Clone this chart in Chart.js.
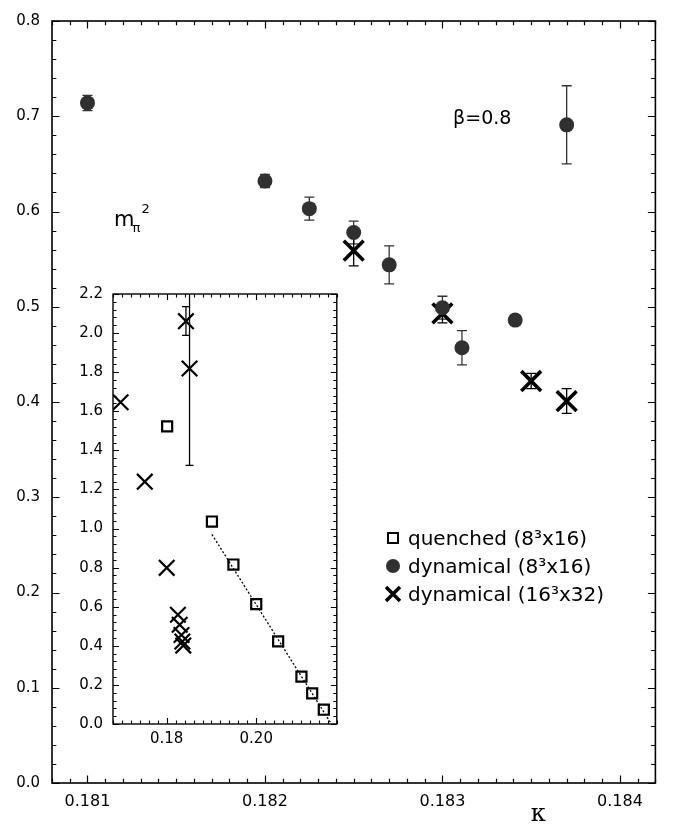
<!DOCTYPE html>
<html><head><meta charset="utf-8">
<script src="https://cdn.jsdelivr.net/npm/chart.js@4.4.1/dist/chart.umd.min.js"></script>
<style>
html,body{margin:0;padding:0;background:#fff;}
#wrap{position:relative;width:673px;height:825px;overflow:hidden;}
#main{position:absolute;left:0;top:0;}
#inset{position:absolute;left:60px;top:275px;}
</style></head><body>
<div id="wrap"><canvas id="main" width="673" height="825"></canvas><canvas id="inset" width="290" height="480"></canvas></div>
<script>
// ---------- data ----------
const mainKappaTicks = [0.181, 0.182, 0.183, 0.184];
const mainM2Ticks = [0.0, 0.1, 0.2, 0.3, 0.4, 0.5, 0.6, 0.7, 0.8];
const insetKappaTicks = [0.18, 0.20];
const insetM2Ticks = [0.0, 0.2, 0.4, 0.6, 0.8, 1.0, 1.2, 1.4, 1.6, 1.8, 2.0, 2.2];

// dynamical (8^3x16), main panel
const dyn8Kappa = [0.1810, 0.1820, 0.18225, 0.1825, 0.1827, 0.1830, 0.18311, 0.18341, 0.1837];
const dyn8M2    = [0.714, 0.632, 0.603, 0.578, 0.544, 0.499, 0.457, 0.486, 0.691];
const dyn8Err   = [0.008, 0.007, 0.012, 0.012, 0.020, 0.012, 0.018, 0.005, 0.041];

// dynamical (16^3x32), main panel
const dyn16Kappa = [0.1825, 0.1830, 0.1835, 0.1837];
const dyn16M2    = [0.559, 0.493, 0.422, 0.401];
const dyn16Err   = [0.016, 0.010, 0.008, 0.013];

// inset: crosses
const insetXKappa = [0.1697, 0.1751, 0.1800, 0.1825, 0.1829, 0.1833, 0.1835, 0.1837, 0.1843, 0.1851];
const insetXM2    = [1.646, 1.240, 0.799, 0.559, 0.508, 0.455, 0.422, 0.401, 2.061, 1.819];
const insetXLow   = [null, null, null, null, null, null, null, null, 1.988, 1.323];
const insetXHigh  = [null, null, null, null, null, null, null, null, 2.135, 2.320];

// inset: quenched squares
const quenchedKappa = [0.1801, 0.1901, 0.1949, 0.2000, 0.2049, 0.2101, 0.2125, 0.2151];
const quenchedM2    = [1.523, 1.036, 0.816, 0.613, 0.423, 0.242, 0.157, 0.073];

// inset: dotted fit line
const fitKappa = [0.1901, 0.2168];
const fitM2    = [0.970, 0.000];

const legendLabels = ['quenched (8\u00B3x16)', 'dynamical (8\u00B3x16)', 'dynamical (16\u00B3x32)'];

// ---------- helpers ----------
const FONT = '"DejaVu Sans", sans-serif';
const pts = (xs, ys) => xs.map((x, i) => ({x, y: ys[i]}));

const errorBars = {
  id: 'errorBars',
  beforeDatasetsDraw(chart) {
    const {ctx, chartArea: a, scales: {x: xs, y: ys}} = chart;
    ctx.save();
    ctx.beginPath(); ctx.rect(a.left, a.top, a.right - a.left, a.bottom - a.top); ctx.clip();
    chart.data.datasets.forEach(ds => {
      if (!ds.errLow) return;
      ctx.strokeStyle = ds.errColor || '#000';
      ctx.lineWidth = ds.errWidth || 1.2;
      ds.data.forEach((p, j) => {
        const lo = ds.errLow[j], hi = ds.errHigh[j];
        if (lo == null) return;
        const px = xs.getPixelForValue(p.x);
        const pl = ys.getPixelForValue(lo), ph = ys.getPixelForValue(hi);
        const c = ds.capHalf || 5;
        ctx.beginPath();
        ctx.moveTo(px, pl); ctx.lineTo(px, ph);
        ctx.moveTo(px - c, pl); ctx.lineTo(px + c, pl);
        ctx.moveTo(px - c, ph); ctx.lineTo(px + c, ph);
        ctx.stroke();
      });
    });
    ctx.restore();
  }
};

const frameTicks = {
  id: 'frameTicks',
  afterDraw(chart, args, o) {
    const {ctx, chartArea: a, scales: {x: xs, y: ys}} = chart;
    ctx.save();
    ctx.strokeStyle = '#000';
    ctx.lineWidth = o.lw;
    ctx.beginPath();
    const minorVals = (min, max, step) => {
      const out = [];
      for (let i = Math.ceil(min / step - 1e-6); i <= Math.floor(max / step + 1e-6); i++) out.push(i * step);
      return out;
    };
    minorVals(xs.min, xs.max, o.xMinor).forEach(v => {
      const p = Math.round(xs.getPixelForValue(v)) + 0.5;
      ctx.moveTo(p, a.bottom); ctx.lineTo(p, a.bottom - o.minorLen);
      ctx.moveTo(p, a.top); ctx.lineTo(p, a.top + o.minorLen);
    });
    o.xMajor.forEach(v => {
      const p = Math.round(xs.getPixelForValue(v)) + 0.5;
      ctx.moveTo(p, a.bottom); ctx.lineTo(p, a.bottom - o.majorLen);
      ctx.moveTo(p, a.top); ctx.lineTo(p, a.top + o.majorLen);
    });
    minorVals(ys.min, ys.max, o.yMinor).forEach(v => {
      const p = Math.round(ys.getPixelForValue(v)) + 0.5;
      ctx.moveTo(a.left, p); ctx.lineTo(a.left + o.minorLen, p);
      ctx.moveTo(a.right, p); ctx.lineTo(a.right - o.minorLen, p);
    });
    o.yMajor.forEach(v => {
      const p = Math.round(ys.getPixelForValue(v)) + 0.5;
      ctx.moveTo(a.left, p); ctx.lineTo(a.left + o.majorLen, p);
      ctx.moveTo(a.right, p); ctx.lineTo(a.right - o.majorLen, p);
    });
    ctx.stroke();
    ctx.lineWidth = o.frameLw;
    ctx.strokeRect(a.left, a.top, a.right - a.left, a.bottom - a.top);
    ctx.restore();
  }
};

const mainText = {
  id: 'mainText',
  afterDraw(chart) {
    const {ctx, scales: {x: xs, y: ys}} = chart;
    ctx.save();
    ctx.fillStyle = '#000';
    ctx.textBaseline = 'alphabetic';
    // beta label
    ctx.font = '19px ' + FONT;
    ctx.textAlign = 'left';
    ctx.fillText('\u03B2=0.8', xs.getPixelForValue(0.18306), ys.getPixelForValue(0.692));
    // m_pi^2 label
    const mx = xs.getPixelForValue(0.18115), my = ys.getPixelForValue(0.585);
    ctx.font = '21px ' + FONT;
    ctx.fillText('m', mx, my);
    const mw = ctx.measureText('m').width;
    ctx.font = '13px ' + FONT;
    ctx.fillText('\u03C0', mx + mw - 2, my + 6);
    ctx.fillText('2', mx + mw + 7, my - 13);
    // kappa label
    ctx.font = '24px "DejaVu Serif", serif';
    ctx.textAlign = 'center';
    ctx.fillText('\u03BA', xs.getPixelForValue(0.18354), 821);
    // legend
    const lx = 393, ly = [538, 566, 594];
    ctx.font = '20px ' + FONT;
    ctx.textAlign = 'left';
    legendLabels.forEach((t, i) => ctx.fillText(t, lx + 15, ly[i] + 7));
    ctx.strokeStyle = '#000';
    ctx.lineWidth = 2;
    ctx.strokeRect(lx - 5, ly[0] - 5, 10, 10);
    ctx.fillStyle = '#303030';
    ctx.beginPath(); ctx.arc(lx, ly[1], 7, 0, Math.PI * 2); ctx.fill();
    ctx.lineWidth = 3.5;
    ctx.beginPath();
    ctx.moveTo(lx - 7, ly[2] - 7); ctx.lineTo(lx + 7, ly[2] + 7);
    ctx.moveTo(lx + 7, ly[2] - 7); ctx.lineTo(lx - 7, ly[2] + 7);
    ctx.stroke();
    ctx.restore();
  }
};

function axis(min, max, ticks, fmt, fitProp, fitVal, pad, size) {
  return {
    type: 'linear', min, max,
    afterBuildTicks: s => { s.ticks = ticks.map(v => ({value: v})); },
    afterFit: s => { s[fitProp] = fitVal; },
    grid: {display: false, drawTicks: false},
    border: {display: false},
    ticks: {padding: pad, color: '#000', font: {family: FONT, size}, autoSkip: false, maxRotation: 0,
            callback: v => v.toFixed(fmt)}
  };
}

// ---------- main chart ----------
new Chart(document.getElementById('main'), {
  type: 'scatter',
  data: {
    datasets: [
      {
        label: legendLabels[1], data: pts(dyn8Kappa, dyn8M2),
        pointStyle: 'circle', pointRadius: 7.5, backgroundColor: '#303030', borderColor: '#303030', borderWidth: 0,
        errLow: dyn8M2.map((v, i) => v - dyn8Err[i]), errHigh: dyn8M2.map((v, i) => v + dyn8Err[i]),
        errColor: '#333', errWidth: 1.3, capHalf: 5
      },
      {
        label: legendLabels[2], data: pts(dyn16Kappa, dyn16M2),
        pointStyle: 'crossRot', pointRadius: 14, borderColor: '#000', backgroundColor: '#000', borderWidth: 3.6,
        errLow: dyn16M2.map((v, i) => v - dyn16Err[i]), errHigh: dyn16M2.map((v, i) => v + dyn16Err[i]),
        errColor: '#000', errWidth: 1.3, capHalf: 5
      }
    ]
  },
  options: {
    responsive: false, animation: false, devicePixelRatio: 1,
    layout: {padding: {top: 13, right: 17, left: 0, bottom: 0}},
    plugins: {legend: {display: false}, tooltip: {enabled: false},
      frameTicks: {lw: 1.2, frameLw: 1.6, majorLen: 7.5, minorLen: 4.3, xMinor: 0.0001, yMinor: 0.02,
                   xMajor: mainKappaTicks, yMajor: mainM2Ticks}},
    scales: {
      x: axis(0.1808, 0.1842, mainKappaTicks, 3, 'height', 42, 9, 16),
      y: axis(0.0, 0.8, mainM2Ticks, 1, 'width', 52, 12, 15)
    }
  },
  plugins: [errorBars, frameTicks, mainText]
});

// ---------- inset chart ----------
new Chart(document.getElementById('inset'), {
  type: 'scatter',
  data: {
    datasets: [
      {
        type: 'line', label: 'fit', data: pts(fitKappa, fitM2),
        borderColor: '#000', borderWidth: 1.3, borderDash: [2, 2], pointRadius: 0, fill: false
      },
      {
        label: legendLabels[0], data: pts(quenchedKappa, quenchedM2),
        pointStyle: 'rect', pointRadius: 7.1, borderColor: '#000', backgroundColor: '#fff', borderWidth: 2.2
      },
      {
        label: legendLabels[2], data: pts(insetXKappa, insetXM2),
        pointStyle: 'crossRot', pointRadius: 11, borderColor: '#000', borderWidth: 2.2,
        errLow: insetXLow, errHigh: insetXHigh, errColor: '#000', errWidth: 1.3, capHalf: 4
      }
    ]
  },
  options: {
    responsive: false, animation: false, devicePixelRatio: 1,
    layout: {padding: {top: 16, right: 12, left: 0, bottom: 0}},
    plugins: {legend: {display: false}, tooltip: {enabled: false},
      frameTicks: {lw: 1.1, frameLw: 1.4, majorLen: 6, minorLen: 3.5, xMinor: 0.002, yMinor: 0.04,
                   xMajor: insetKappaTicks, yMajor: insetM2Ticks}},
    scales: {
      x: axis(0.168, 0.218, insetKappaTicks, 2, 'height', 31, 6, 15),
      y: axis(0.0, 2.2, insetM2Ticks, 1, 'width', 53, 10, 15)
    }
  },
  plugins: [errorBars, frameTicks]
});
</script>
</body></html>
